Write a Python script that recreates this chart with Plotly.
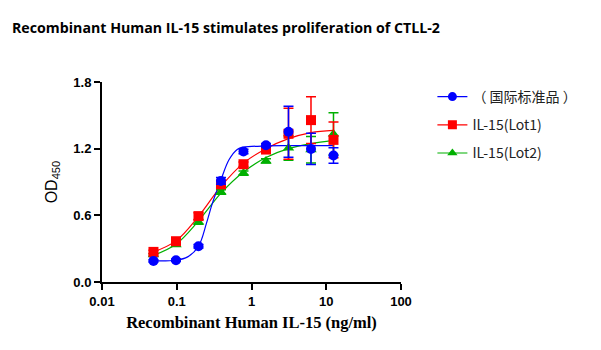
import plotly.graph_objects as go

# ---- data ----
dose = [0.0488, 0.0977, 0.1953, 0.3906, 0.7813, 1.5625, 3.125, 6.25, 12.5]

std_mean = [0.19, 0.196, 0.322, 0.91, 1.174, 1.231, 1.352, 1.198, 1.138]
std_err = [0.01, 0.01, 0.015, 0.03, 0.02, 0.015, 0.23, 0.14, 0.07]

lot1_mean = [0.271, 0.367, 0.593, 0.879, 1.06, 1.192, 1.334, 1.457, 1.279]
lot1_err = [0.015, 0.015, 0.03, 0.03, 0.02, 0.02, 0.23, 0.21, 0.16]

lot2_mean = [0.245, 0.335, 0.54, 0.81, 0.98, 1.09, 1.206, 1.19, 1.333]
lot2_err = [0.01, 0.01, 0.02, 0.02, 0.02, 0.02, 0.11, 0.12, 0.19]

# fitted curves
std_fit_x = [0.0488, 0.0977, 0.14, 0.1953, 0.25, 0.3, 0.3906, 0.5, 0.65, 0.7813, 1.5625, 3.125, 6.25, 12.5]
std_fit_y = [0.19, 0.196, 0.226, 0.322, 0.53, 0.71, 0.92, 1.10, 1.195, 1.213, 1.225, 1.227, 1.227, 1.227]

lot1_fit_x = [0.0488, 0.0977, 0.1953, 0.3906, 0.7813, 1.5625, 3.125, 6.25, 12.5]
lot1_fit_y = [0.27, 0.37, 0.59, 0.86, 1.07, 1.20, 1.29, 1.345, 1.365]

lot2_fit_x = [0.0488, 0.0977, 0.1953, 0.3906, 0.7813, 1.5625, 3.125, 6.25, 12.5]
lot2_fit_y = [0.24, 0.34, 0.55, 0.80, 0.99, 1.12, 1.20, 1.245, 1.275]

names = ["（ 国际标准品 ）", "IL-15(Lot1)", "IL-15(Lot2)"]
colors = ["#0000FF", "#FF0000", "#00B000"]
symbols = ["circle", "square", "triangle-up"]

fig = go.Figure()

series = [
    (std_mean, std_err, std_fit_x, std_fit_y),
    (lot1_mean, lot1_err, lot1_fit_x, lot1_fit_y),
    (lot2_mean, lot2_err, lot2_fit_x, lot2_fit_y),
]

order = [2, 1, 0]
for i in order:
    m, e, fx, fy = series[i]
    fig.add_trace(go.Scatter(
        x=fx, y=fy, mode="lines", line=dict(color=colors[i], width=1.2, shape="spline", smoothing=1.0),
        showlegend=False, hoverinfo="skip"))
for i in order:
    m, e, fx, fy = series[i]
    fig.add_trace(go.Scatter(
        x=dose, y=m, mode="markers",
        marker=dict(color=colors[i], symbol=symbols[i], size=10),
        error_y=dict(type="data", array=e, visible=True, color=colors[i], thickness=1.5, width=5),
        showlegend=False))

for i in range(3):
    fig.add_trace(go.Scatter(
        x=[None], y=[None], mode="lines+markers", name=names[i],
        line=dict(color=colors[i], width=1.2),
        marker=dict(color=colors[i], symbol=symbols[i], size=9),
        legendgroup=str(i)))

fig.update_layout(
    width=601, height=350,
    margin=dict(l=102, r=200, t=82, b=68),
    plot_bgcolor="white", paper_bgcolor="white",
    title=dict(text="<b>Recombinant Human IL-15 stimulates proliferation of CTLL-2</b>",
               x=12/601, xanchor="left", y=1-28/350, yanchor="middle",
               font=dict(family="Open Sans", size=14.2, color="black")),
    showlegend=True,
    legend=dict(x=1.105, xanchor="left", y=1.005, yanchor="top",
                traceorder="grouped", tracegroupgap=7, itemwidth=30,
                font=dict(family="Noto Sans CJK SC, Open Sans", size=14, color="#222"),
                bgcolor="rgba(0,0,0,0)"),
)

fig.update_xaxes(
    type="log", range=[-2, 2],
    tickvals=[0.01, 0.1, 1, 10, 100], ticktext=["0.01", "0.1", "1", "10", "100"],
    showline=True, linecolor="black", linewidth=2, showgrid=False, zeroline=False,
    ticks="outside", ticklen=6, tickwidth=2, tickcolor="black",
    tickfont=dict(family="Liberation Sans", size=13, color="black", weight="bold"),
    title=dict(text="<b>Recombinant Human IL-15 (ng/ml)</b>",
               font=dict(family="Liberation Serif", size=16.5, color="black"), standoff=9),
)
fig.update_yaxes(
    range=[0, 1.8], tickvals=[0, 0.6, 1.2, 1.8], ticktext=["0.0", "0.6", "1.2", "1.8"],
    showline=True, linecolor="black", linewidth=2, showgrid=False, zeroline=False,
    ticks="outside", ticklen=6, tickwidth=2, tickcolor="black",
    tickfont=dict(family="Liberation Sans", size=13, color="black", weight="bold"),
    title=dict(text="OD<sub>450</sub>",
               font=dict(family="Liberation Sans", size=16, color="black"), standoff=12),
)

fig.write_html("out.html")
